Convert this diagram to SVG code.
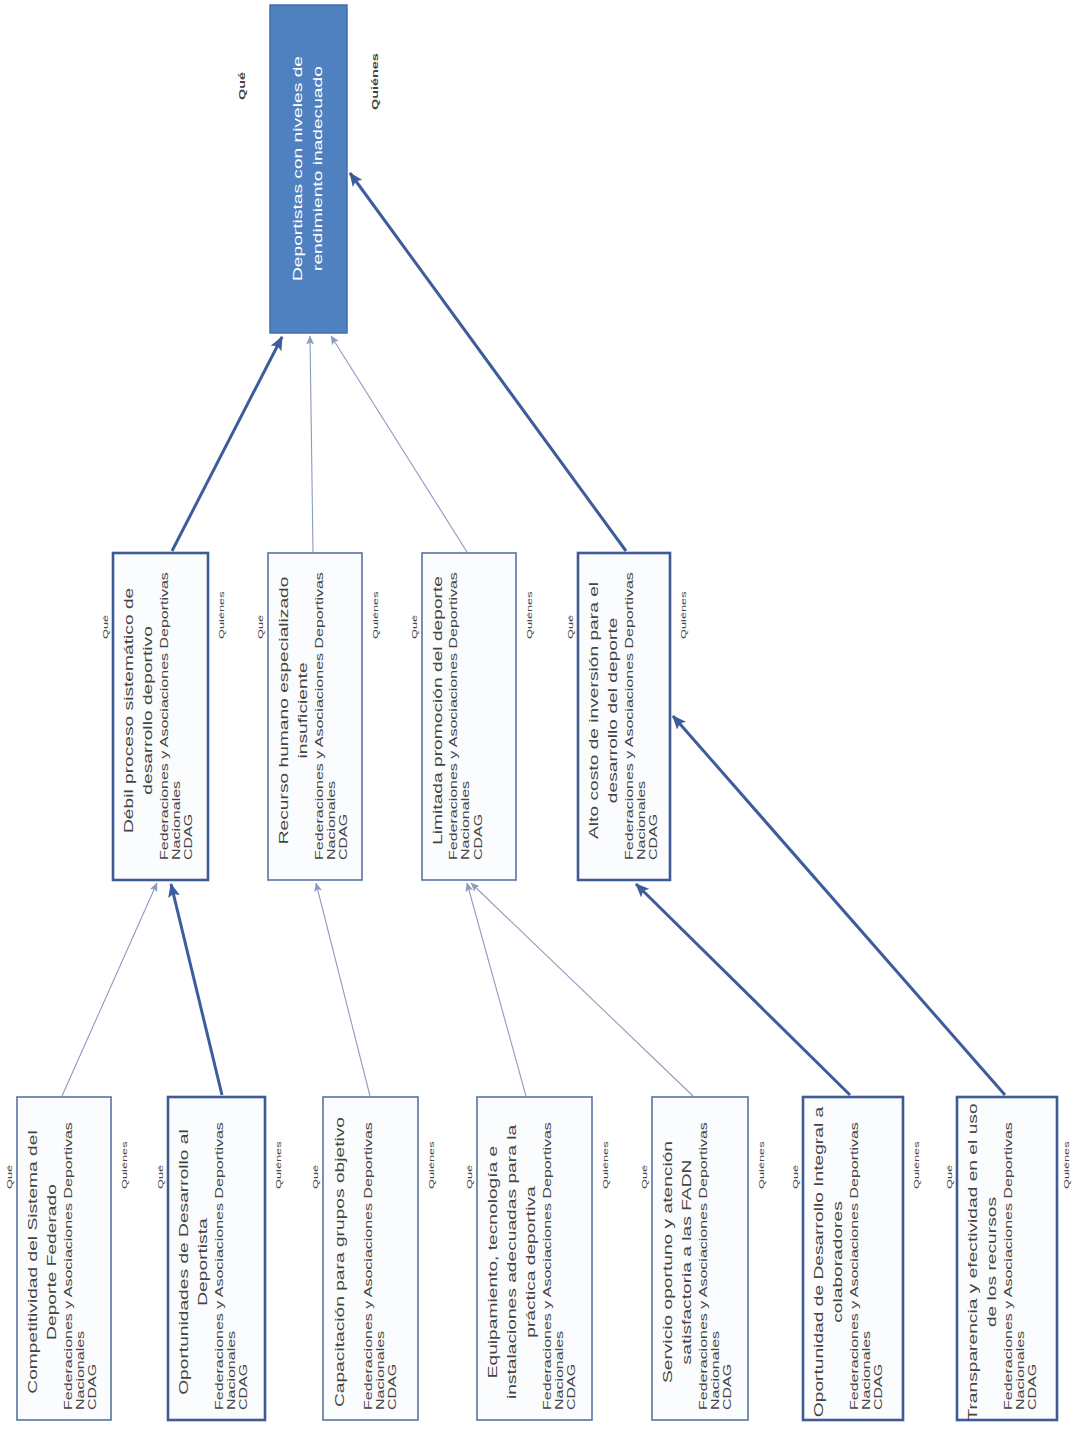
<svg xmlns="http://www.w3.org/2000/svg" width="1072" height="1429" viewBox="0 0 1072 1429">
<style>
.box{fill:#fbfcfe;stroke:#5b73a2;stroke-width:1.6}
.bold{stroke:#3f5b94;stroke-width:2.6}
.t{font-family:"Liberation Sans",Arial,sans-serif;fill:#444444}
.title{font-size:12px;text-anchor:middle}
.body{font-size:10px}
.lbl{font-size:8px}
.tl{font-size:9px;font-weight:bold}
.thick{stroke:#3d5c9c;stroke-width:3;fill:none;marker-end:url(#ah)}
.thin{stroke:#8d9bbf;stroke-width:1.1;fill:none;marker-end:url(#ahs)}
</style>
<defs>
<marker id="ah" markerUnits="userSpaceOnUse" markerWidth="14" markerHeight="12" refX="13" refY="6" orient="auto"><path d="M0,0 L14,6 L0,12 L3,6 z" fill="#3d5c9c"/></marker>
<marker id="ahs" markerUnits="userSpaceOnUse" markerWidth="9" markerHeight="8" refX="8.5" refY="4" orient="auto"><path d="M0,0 L9,4 L0,8 L2,4 z" fill="#8d9bbf"/></marker>
</defs>
<rect width="1072" height="1429" fill="#ffffff"/>
<g id="connectors">
<path class="thick" d="M172,551 L282,337"/>
<path class="thick" d="M626,551 L350,173"/>
<path class="thin" d="M313,552 L310,336"/>
<path class="thin" d="M467,552 L331,336"/>
<path class="thin" d="M62,1096 L157,883"/>
<path class="thick" d="M222,1095 L171,884"/>
<path class="thin" d="M370,1096 L316,883"/>
<path class="thin" d="M526,1096 L467,883"/>
<path class="thin" d="M693,1096 L471,883"/>
<path class="thick" d="M850,1095 L636,884"/>
<path class="thick" d="M1005,1095 L673,716"/>
</g>
<g id="top">
<rect x="270" y="5" width="77" height="328" fill="#4f81c0" stroke="#3f6fae" stroke-width="1.5"/>
<g transform="translate(270,333) rotate(-90) scale(1.6,1)" class="t">
<text class="title" x="102.8" y="32" style="fill:#ffffff">Deportistas con niveles de</text>
<text class="title" x="102.8" y="52" style="fill:#ffffff">rendimiento inadecuado</text>
</g>
<text class="t tl" transform="translate(245,100) rotate(-90) scale(1.6,1)">Qué</text>
<text class="t tl" transform="translate(378,110) rotate(-90) scale(1.6,1)">Quiénes</text>
</g>
<g id="n2-1">
<rect class="box bold" x="113" y="553" width="95" height="327"/>
<g transform="translate(113,880) rotate(-90) scale(1.6,1)" class="t">
<text class="title" x="106" y="20.5">Débil proceso sistemático de</text>
<text class="title" x="106" y="39.5">desarrollo deportivo</text>
<text class="body" x="12.5" y="55.5">Federaciones y Asociaciones Deportivas</text>
<text class="body" x="12.5" y="67.5">Nacionales</text>
<text class="body" x="12.5" y="79.5">CDAG</text>
</g>
<text class="t lbl" transform="translate(108,639) rotate(-90) scale(1.6,1)">Qué</text>
<text class="t lbl" transform="translate(223.5,639) rotate(-90) scale(1.6,1)">Quiénes</text>
</g>
<g id="n2-2">
<rect class="box" x="268" y="553" width="94" height="327"/>
<g transform="translate(268,880) rotate(-90) scale(1.6,1)" class="t">
<text class="title" x="106" y="20.5">Recurso humano especializado</text>
<text class="title" x="106" y="39.5">insuficiente</text>
<text class="body" x="12.5" y="55.5">Federaciones y Asociaciones Deportivas</text>
<text class="body" x="12.5" y="67.5">Nacionales</text>
<text class="body" x="12.5" y="79.5">CDAG</text>
</g>
<text class="t lbl" transform="translate(263,639) rotate(-90) scale(1.6,1)">Qué</text>
<text class="t lbl" transform="translate(377.5,639) rotate(-90) scale(1.6,1)">Quiénes</text>
</g>
<g id="n2-3">
<rect class="box" x="422" y="553" width="94" height="327"/>
<g transform="translate(422,880) rotate(-90) scale(1.6,1)" class="t">
<text class="title" x="106" y="20.5">Limitada promoción del deporte</text>
<text class="body" x="12.5" y="35">Federaciones y Asociaciones Deportivas</text>
<text class="body" x="12.5" y="47.5">Nacionales</text>
<text class="body" x="12.5" y="60">CDAG</text>
</g>
<text class="t lbl" transform="translate(417,639) rotate(-90) scale(1.6,1)">Qué</text>
<text class="t lbl" transform="translate(531.5,639) rotate(-90) scale(1.6,1)">Quiénes</text>
</g>
<g id="n2-4">
<rect class="box bold" x="578" y="553" width="92" height="327"/>
<g transform="translate(578,880) rotate(-90) scale(1.6,1)" class="t">
<text class="title" x="106" y="20.5">Alto costo de inversión para el</text>
<text class="title" x="106" y="39.5">desarrollo del deporte</text>
<text class="body" x="12.5" y="55.5">Federaciones y Asociaciones Deportivas</text>
<text class="body" x="12.5" y="67.5">Nacionales</text>
<text class="body" x="12.5" y="79.5">CDAG</text>
</g>
<text class="t lbl" transform="translate(573,639) rotate(-90) scale(1.6,1)">Qué</text>
<text class="t lbl" transform="translate(685.5,639) rotate(-90) scale(1.6,1)">Quiénes</text>
</g>
<g id="n3-1">
<rect class="box" x="17" y="1097" width="94" height="323"/>
<g transform="translate(17,1420) rotate(-90) scale(1.6,1)" class="t">
<text class="title" x="98.75" y="20.5">Competitividad del Sistema del</text>
<text class="title" x="98.75" y="39.5">Deporte Federado</text>
<text class="body" x="6.25" y="55.5">Federaciones y Asociaciones Deportivas</text>
<text class="body" x="6.25" y="67.5">Nacionales</text>
<text class="body" x="6.25" y="79.5">CDAG</text>
</g>
<text class="t lbl" transform="translate(12,1189) rotate(-90) scale(1.6,1)">Qué</text>
<text class="t lbl" transform="translate(126.5,1189) rotate(-90) scale(1.6,1)">Quiénes</text>
</g>
<g id="n3-2">
<rect class="box bold" x="168" y="1097" width="97" height="323"/>
<g transform="translate(168,1420) rotate(-90) scale(1.6,1)" class="t">
<text class="title" x="98.75" y="20.5">Oportunidades de Desarrollo al</text>
<text class="title" x="98.75" y="39.5">Deportista</text>
<text class="body" x="6.25" y="55.5">Federaciones y Asociaciones Deportivas</text>
<text class="body" x="6.25" y="67.5">Nacionales</text>
<text class="body" x="6.25" y="79.5">CDAG</text>
</g>
<text class="t lbl" transform="translate(163,1189) rotate(-90) scale(1.6,1)">Qué</text>
<text class="t lbl" transform="translate(280.5,1189) rotate(-90) scale(1.6,1)">Quiénes</text>
</g>
<g id="n3-3">
<rect class="box" x="323" y="1097" width="95" height="323"/>
<g transform="translate(323,1420) rotate(-90) scale(1.6,1)" class="t">
<text class="title" x="98.75" y="21">Capacitación para grupos objetivo</text>
<text class="body" x="6.25" y="49">Federaciones y Asociaciones Deportivas</text>
<text class="body" x="6.25" y="61">Nacionales</text>
<text class="body" x="6.25" y="73">CDAG</text>
</g>
<text class="t lbl" transform="translate(318,1189) rotate(-90) scale(1.6,1)">Qué</text>
<text class="t lbl" transform="translate(433.5,1189) rotate(-90) scale(1.6,1)">Quiénes</text>
</g>
<g id="n3-4">
<rect class="box" x="477" y="1097" width="115" height="323"/>
<g transform="translate(477,1420) rotate(-90) scale(1.6,1)" class="t">
<text class="title" x="98.75" y="20.5">Equipamiento, tecnología e</text>
<text class="title" x="98.75" y="39.5">instalaciones adecuadas para la</text>
<text class="title" x="98.75" y="58.5">práctica deportiva</text>
<text class="body" x="6.25" y="74">Federaciones y Asociaciones Deportivas</text>
<text class="body" x="6.25" y="86">Nacionales</text>
<text class="body" x="6.25" y="98">CDAG</text>
</g>
<text class="t lbl" transform="translate(472,1189) rotate(-90) scale(1.6,1)">Qué</text>
<text class="t lbl" transform="translate(607.5,1189) rotate(-90) scale(1.6,1)">Quiénes</text>
</g>
<g id="n3-5">
<rect class="box" x="652" y="1097" width="96" height="323"/>
<g transform="translate(652,1420) rotate(-90) scale(1.6,1)" class="t">
<text class="title" x="98.75" y="20.5">Servicio oportuno y atención</text>
<text class="title" x="98.75" y="39.5">satisfactoria a las FADN</text>
<text class="body" x="6.25" y="55.5">Federaciones y Asociaciones Deportivas</text>
<text class="body" x="6.25" y="67.5">Nacionales</text>
<text class="body" x="6.25" y="79.5">CDAG</text>
</g>
<text class="t lbl" transform="translate(647,1189) rotate(-90) scale(1.6,1)">Qué</text>
<text class="t lbl" transform="translate(763.5,1189) rotate(-90) scale(1.6,1)">Quiénes</text>
</g>
<g id="n3-6">
<rect class="box bold" x="803" y="1097" width="100" height="323"/>
<g transform="translate(803,1420) rotate(-90) scale(1.6,1)" class="t">
<text class="title" x="98.75" y="20.5">Oportunidad de Desarrollo Integral a</text>
<text class="title" x="98.75" y="39.5">colaboradores</text>
<text class="body" x="6.25" y="55.5">Federaciones y Asociaciones Deportivas</text>
<text class="body" x="6.25" y="67.5">Nacionales</text>
<text class="body" x="6.25" y="79.5">CDAG</text>
</g>
<text class="t lbl" transform="translate(798,1189) rotate(-90) scale(1.6,1)">Qué</text>
<text class="t lbl" transform="translate(918.5,1189) rotate(-90) scale(1.6,1)">Quiénes</text>
</g>
<g id="n3-7">
<rect class="box bold" x="957" y="1097" width="100" height="323"/>
<g transform="translate(957,1420) rotate(-90) scale(1.6,1)" class="t">
<text class="title" x="98.75" y="20.5">Transparencia y efectividad en el uso</text>
<text class="title" x="98.75" y="39.5">de los recursos</text>
<text class="body" x="6.25" y="55.5">Federaciones y Asociaciones Deportivas</text>
<text class="body" x="6.25" y="67.5">Nacionales</text>
<text class="body" x="6.25" y="79.5">CDAG</text>
</g>
<text class="t lbl" transform="translate(952,1189) rotate(-90) scale(1.6,1)">Qué</text>
<text class="t lbl" transform="translate(1069,1189) rotate(-90) scale(1.6,1)">Quiénes</text>
</g>
</svg>
